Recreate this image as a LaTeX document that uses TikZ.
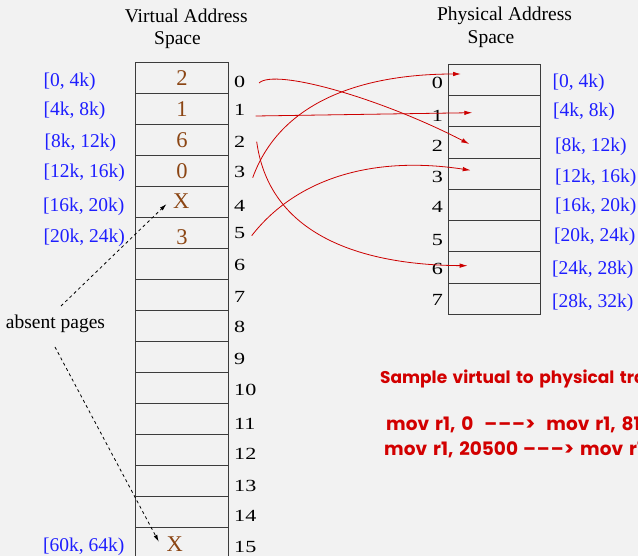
\documentclass[tikz,border=0pt]{standalone}
\usepackage{fontspec}
\setmainfont{Liberation Serif}
\newfontfamily\idxfont{Liberation Serif}[FakeStretch=1.3]
\newfontfamily\gothic{Poppins}
\usetikzlibrary{arrows.meta}
\definecolor{bg}{RGB}{242,242,242}
\definecolor{lblue}{RGB}{30,30,255}
\definecolor{brn}{RGB}{139,69,19}
\definecolor{arrred}{RGB}{204,0,0}
\definecolor{txtred}{RGB}{210,0,0}
\definecolor{tline}{RGB}{60,60,60}
\newcommand{\longarrow}{\mbox{–\kern1pt–\kern1pt–\kern0.5pt>}}
\newcommand{\wsA}{\spaceskip=5.5pt\relax}
\newcommand{\wsB}{\spaceskip=6pt\relax}
\begin{document}
\begin{tikzpicture}[x=1pt,y=-1pt,
 cell/.style={draw=tline,line width=0.9pt,minimum width=93pt,minimum height=31.03pt,inner sep=0pt,outer sep=0pt},
 pcell/.style={cell,minimum width=92pt,minimum height=31.25pt},
 idx/.style={inner sep=0pt,font=\idxfont\fontsize{17}{17}\selectfont},
 rng/.style={inner sep=0pt,anchor=base west,text=lblue,font=\fontsize{19.5}{20}\selectfont},
 val/.style={inner sep=0pt,anchor=base,text=brn,font=\fontsize{22.5}{23}\selectfont},
 hdr/.style={inner sep=0pt,anchor=base,font=\fontsize{19.5}{20}\selectfont},
 map/.style={draw=arrred,line width=0.8pt,-{Latex[length=8pt,width=4.5pt]}},
 absent/.style={draw=black,line width=0.8pt,dash pattern=on 3pt off 3pt,-{Latex[length=7pt,width=4pt]}},
 note/.style={inner sep=0pt,anchor=base west,text=txtred,font=\gothic\bfseries\fontsize{17}{18}\selectfont},
 code/.style={note,font=\gothic\bfseries\fontsize{18.5}{19}\selectfont}]
\fill[bg] (0,0) rectangle (638,556);
\clip (0,0) rectangle (638,556);
% headers
\node[hdr] (vh1) at (186.2,22.7) {Virtual Address};
\node[hdr] (vh2) at (177.5,44.3) {Space};
\node[hdr] (ph1) at (504.5,20.7) {Physical Address};
\node[hdr] (ph2) at (491,43.3) {Space};
% tables
\foreach \k in {0,...,15} \node[cell] (v\k) at (181.5,{77.8+31.03*\k}) {};
\foreach \k in {0,...,7} \node[pcell] (p\k) at (494.3,{79.9+31.25*\k}) {};
% virtual page numbers
\foreach \k/\b in {0/87.6,1/116,2/148,3/178,4/212,5/239,6/270.6,7/303,8/333,9/364.6,10/395.6,11/429,12/459,13/491,14/521,15/552}
  \node[idx,anchor=base west] (vi\k) at (234,\b) {\k};
% physical frame numbers
\foreach \k/\b in {0/88.3,1/121.3,2/151.3,3/182.3,4/212.3,5/245.3,6/274.3,7/305.3}
  \node[idx,anchor=base east] (pi\k) at (443,\b) {\k};
% virtual ranges
\node[rng] (rv0) at (43.5,87) {[0, 4k)};
\node[rng] (rv1) at (43.5,116) {[4k, 8k)};
\node[rng] (rv2) at (44.5,147.5) {[8k, 12k)};
\node[rng] (rv3) at (43.5,178) {[12k, 16k)};
\node[rng] (rv4) at (43,211.5) {[16k, 20k)};
\node[rng] (rv5) at (43.5,242.5) {[20k, 24k)};
\node[rng] (rv15) at (43,551) {[60k, 64k)};
% physical ranges
\node[rng] (rp0) at (552.5,88) {[0, 4k)};
\node[rng] (rp1) at (553,116.5) {[4k, 8k)};
\node[rng] (rp2) at (555,151.5) {[8k, 12k)};
\node[rng] (rp3) at (555,183) {[12k, 16k)};
\node[rng] (rp4) at (555,211.5) {[16k, 20k)};
\node[rng] (rp5) at (554,242) {[20k, 24k)};
\node[rng] (rp6) at (552,275) {[24k, 28k)};
\node[rng] (rp7) at (552,307.5) {[28k, 32k)};
% page table contents
\node[val] (bv0) at (182,86) {2};
\node[val] (bv1) at (182,116.7) {1};
\node[val] (bv2) at (182,147.7) {6};
\node[val] (bv3) at (182,179) {0};
\node[val] (bv4) at (181.2,208.3) {X};
\node[val] (bv5) at (182,244.3) {3};
\node[val] (bv15) at (174.7,551.7) {X};
% mapping arrows
\coordinate (m0) at (259,83);
\coordinate (m1) at (255.7,116);
\coordinate (m2) at (256.7,141.7);
\coordinate (m3) at (252.7,177.7);
\coordinate (m5) at (251.7,235.7);
\draw[map] (m0) .. controls (275,68) and (380,98) .. ([shift={(-25pt,-1.6pt)}]p2.center);
\draw[map] (m1) -- ([shift={(-22pt,-1.55pt)}]p1.center);
\draw[map] (m2) .. controls (270,240) and (370,265) .. ([shift={(-26.6pt,1.7pt)}]p6.center);
\draw[map] (m3) .. controls (282,97) and (370,74) .. ([shift={(-33.3pt,5.9pt)}]p0.center);
\draw[map] (m5) .. controls (295,180) and (370,155) .. ([shift={(-23.6pt,3.35pt)}]p3.center);
% absent pages
\node[hdr] (ab) at (55.5,328.8) {absent pages};
\coordinate (ab1) at (61,306);
\coordinate (ab2) at (55,347);
\draw[absent] (ab1) -- ([shift={(-6.4pt,-3.15pt)}]bv4.west);
\draw[absent] (ab2) -- ([shift={(-7.6pt,2.55pt)}]bv15.west);
% sample translations
\node[note] (n1) at (380,383.3) {\wsA Sample virtual to physical translations};
\node[code] (n2) at (386,430) {\wsB mov r1, 0\hspace{11pt}\longarrow\hspace{11pt}mov r1, 8192};
\node[code] (n3) at (384,455) {\wsB mov r1, 20500\hspace{5pt}\longarrow\hspace{6pt}mov r1, 12308};
\end{tikzpicture}
\end{document}
